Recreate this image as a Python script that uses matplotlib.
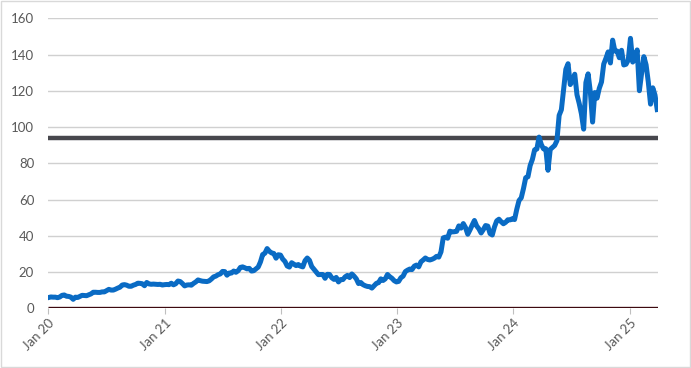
import pandas as pd
import matplotlib.pyplot as plt
import matplotlib.dates as mdates
import numpy as np

plt.rcParams["font.family"] = ["Lato", "DejaVu Sans"]

# weekly closes (split adjusted)
start = "2020-01-03"
p2020 = [6.0, 6.3, 6.2, 6.2, 5.9, 6.3, 7.2, 7.4, 6.7, 6.6, 6.2, 5.0, 6.2, 6.0, 6.6, 7.2,
         7.1, 7.0, 7.5, 8.0, 8.9, 8.9, 8.8, 8.8, 9.1, 9.1, 9.8, 10.5, 10.1, 10.1, 10.6, 11.2,
         11.7, 12.9, 13.1, 12.8, 12.2, 12.2, 12.8, 13.2, 13.9, 13.8, 13.6, 12.5, 14.3, 13.5,
         13.3, 13.4, 13.3, 13.2, 13.3, 12.9]
p2021 = [13.1, 13.2, 13.1, 13.9, 13.0, 13.6, 15.1, 14.8, 13.7, 12.4, 12.9, 13.0, 12.8, 13.8,
         14.6, 15.7, 15.3, 15.0, 14.9, 14.8, 15.2, 16.2, 17.4, 17.8, 18.6, 19.0, 20.4, 20.3,
         18.3, 19.5, 19.5, 20.6, 19.9, 20.8, 22.6, 22.9, 22.4, 21.8, 22.1, 20.6, 20.8, 21.8,
         22.8, 25.6, 29.7, 30.4, 33.0, 31.5, 30.6, 30.3, 27.7, 29.6, 29.4]
p2022 = [27.2, 25.9, 23.4, 22.8, 25.2, 24.4, 23.6, 24.2, 23.3, 22.9, 26.3, 27.8, 26.5, 23.1,
         21.6, 20.1, 18.6, 18.7, 18.7, 16.6, 18.8, 18.7, 16.9, 16.0, 17.1, 14.6, 15.9, 15.9,
         17.4, 18.2, 17.0, 19.0, 17.8, 16.3, 13.7, 14.3, 13.1, 12.5, 12.1, 12.0, 11.2, 12.5,
         13.8, 14.2, 16.3, 15.4, 16.3, 18.7, 17.5, 16.6, 15.3, 14.6]
p2023 = [14.9, 16.9, 17.8, 20.3, 21.1, 21.7, 21.4, 23.3, 23.9, 22.9, 25.7, 26.7, 27.8, 27.0,
         26.7, 27.1, 27.7, 28.7, 28.3, 31.2, 38.9, 39.3, 38.7, 42.6, 42.2, 42.3, 42.5, 45.5,
         44.3, 46.8, 44.6, 40.9, 43.3, 46.0, 48.5, 45.5, 43.9, 41.6, 43.5, 45.7, 45.4, 41.3,
         40.5, 45.0, 48.3, 49.2, 47.8, 46.7, 47.5, 48.9, 48.8, 49.5]
p2024 = [49.0, 54.7, 59.5, 61.0, 66.1, 72.1, 72.6, 78.8, 82.2, 87.5, 87.9, 94.5, 90.4, 88.0,
         88.1, 76.2, 87.7, 88.8, 89.9, 92.5, 106.5, 109.6, 120.9, 131.9, 135.0, 123.5, 125.8,
         129.2, 117.9, 113.1, 107.3, 98.9, 124.6, 129.4, 119.4, 102.8, 119.1, 116.0, 121.4,
         124.9, 134.8, 138.0, 141.5, 135.4, 148.0, 142.0, 142.0, 138.3, 142.4, 134.3, 134.7,
         137.0]
p2025 = [149.0, 135.9, 137.7, 142.6, 120.1, 129.8, 138.9, 134.4, 124.9, 112.7, 121.7, 117.7,
         109.7]
level = 94

prices = p2020 + p2021 + p2022 + p2023 + p2024 + p2025
dates = pd.date_range(start, periods=len(prices), freq="7D")

fig = plt.figure(figsize=(6.91, 3.68), dpi=100)
ax = fig.add_axes([0.0695, 0.162, 0.883, 0.788])
fig.patches.append(plt.Rectangle((0.001, 0.002), 0.997, 0.995, transform=fig.transFigure,
                                 fill=False, edgecolor="#d9d9d9", linewidth=1))

x0 = pd.Timestamp("2020-01-01")
x1 = dates[-1] + pd.Timedelta(days=3)
ax.plot([x0, x1], [level, level], color="#47474d", linewidth=3.2, solid_capstyle="butt", zorder=3)
ax.plot(dates, prices, color="#0a6bc4", linewidth=3.6, solid_joinstyle="round", zorder=4)
ax.plot([x0, x1], [0, 0], color="#3d0a10", linewidth=2.4, solid_capstyle="butt", zorder=5)

ax.set_xlim(x0, x1)
ax.set_ylim(0, 160)
ax.set_yticks(np.arange(0, 161, 20))
ax.grid(axis="y", color="#d0d0d0", linewidth=1)
ax.set_axisbelow(True)
for s in ax.spines.values():
    s.set_visible(False)

ax.xaxis.set_major_locator(mdates.YearLocator())
ax.xaxis.set_major_formatter(mdates.DateFormatter("%b %y"))
ax.tick_params(axis="x", length=4, color="#bfbfbf", labelcolor="#595959", labelsize=9.5, pad=2)
ax.tick_params(axis="y", length=0, labelcolor="#595959", labelsize=9.5, pad=10)
for lab in ax.get_xticklabels():
    lab.set_rotation(45)
    lab.set_ha("right")
    lab.set_rotation_mode("anchor")

plt.savefig("out.png", dpi=100)
